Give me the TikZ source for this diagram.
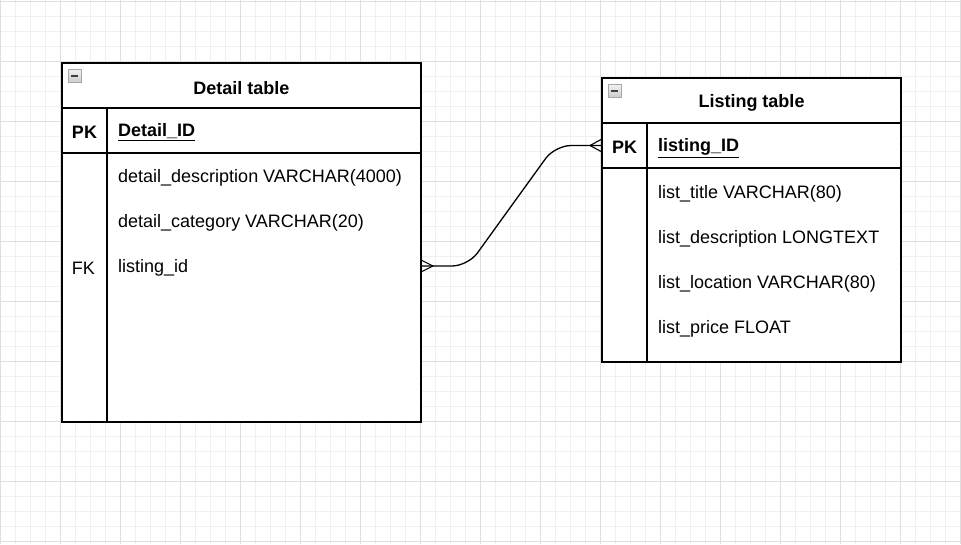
\documentclass[tikz,border=0pt]{standalone}
\usepackage{fontspec}
\setmainfont{Liberation Sans}
\usepackage{xcolor}
\usetikzlibrary{calc, positioning}
\definecolor{gridminor}{HTML}{F0F0F0}
\definecolor{gridmajor}{HTML}{DEDEDE}
\newcommand{\tablefont}{\fontsize{18}{21}\selectfont}
\tikzset{
    box/.style={rectangle, draw=black, line width=1.3pt, fill=white, inner sep=0pt, outer sep=0pt, anchor=north west},
    title/.style={font=\tablefont\bfseries},
    keyname/.style={anchor=west, inner sep=0pt, font=\tablefont\bfseries},
    field/.style={anchor=west, inner sep=0pt, font=\tablefont},
    keytag/.style={inner sep=0pt, font=\tablefont},
    minus/.style={rectangle, draw=gray!70, top color=gray!10, bottom color=gray!40, minimum size=13, inner sep=0pt, anchor=north west,
        path picture={\draw[line width=1.8pt, black!75] ([xshift=3]path picture bounding box.west) -- ([xshift=-3]path picture bounding box.east);}},
    conn/.style={draw=black, line width=1.3pt},
    crow/.style={draw=black, line width=1.1pt}
}

\begin{document}
\begin{tikzpicture}[x=1pt, y=-1pt]
    \useasboundingbox[fill=white] (0,0) rectangle (961,544);
    % grid
    \foreach \gx in {0,15,...,960} \draw[gridminor, line width=0.8pt] (\gx,0) -- (\gx,544);
    \foreach \gy in {1,16,...,541} \draw[gridminor, line width=0.8pt] (0,\gy) -- (961,\gy);
    \foreach \gx in {0,60,...,960} \draw[gridmajor, line width=0.8pt] (\gx,0) -- (\gx,544);
    \foreach \gy in {1,61,...,541} \draw[gridmajor, line width=0.8pt] (0,\gy) -- (961,\gy);

    % Detail table
    \node[box, minimum width=359, minimum height=45] (dethead) at (62,63) {};
    \node[box, minimum width=45, minimum height=45] (detpk) at (dethead.south west) {};
    \node[box, minimum width=314, minimum height=45] (detkey) at (detpk.north east) {};
    \node[box, minimum width=45, minimum height=269] (detcol) at (detpk.south west) {};
    \node[box, minimum width=314, minimum height=269] (detrows) at (detcol.north east) {};
    \node[minus] (detminus) at ([xshift=6, yshift=-6]dethead.north west) {};
    \node[title] (dettitle) at ([yshift=-2.5]dethead.center) {Detail table};
    \node[keytag, font=\tablefont\bfseries] (detpktag) at ([yshift=-1.5]detpk.center) {PK};
    \node[keyname] (detid) at (118,132) {\underline{Detail\_ID}};
    \node[field] (ddesc) at (118,178) {detail\_description VARCHAR(4000)};
    \node[field] (dcat) at (118,223) {detail\_category VARCHAR(20)};
    \node[field] (dlisting) at (118,268) {listing\_id};
    \node[keytag] (detfktag) at ([xshift=-1]detcol.center |- dlisting) {FK};

    % Listing table
    \node[box, minimum width=299, minimum height=45] (lsthead) at (602,78) {};
    \node[box, minimum width=45, minimum height=45] (lstpk) at (lsthead.south west) {};
    \node[box, minimum width=254, minimum height=45] (lstkey) at (lstpk.north east) {};
    \node[box, minimum width=45, minimum height=194] (lstcol) at (lstpk.south west) {};
    \node[box, minimum width=254, minimum height=194] (lstrows) at (lstcol.north east) {};
    \node[minus] (lstminus) at ([xshift=6, yshift=-6]lsthead.north west) {};
    \node[title] (lsttitle) at ([yshift=-2.5]lsthead.center) {Listing table};
    \node[keytag, font=\tablefont\bfseries] (lstpktag) at ([yshift=-1.5]lstpk.center) {PK};
    \node[keyname] (lstid) at (658,148) {\underline{listing\_ID}};
    \node[field] (ltitle) at (658,194) {list\_title VARCHAR(80)};
    \node[field] (ldesc) at (658,239) {list\_description LONGTEXT};
    \node[field] (lloc) at (658,284) {list\_location VARCHAR(80)};
    \node[field] (lprice) at (658,329) {list\_price FLOAT};

    % relation
    \coordinate (fkend) at (detrows.east |- 0,266);
    \draw[conn, rounded corners=16] (fkend) -- ++(47,0) -- ($(lstpk.west)+(-47,0)$) -- (lstpk.west);
    \draw[crow] ($(fkend)+(0,-6)$) -- ++(12,6) -- ++(-12,6);
    \draw[crow] ($(lstpk.west)+(0,-6.5)$) -- ++(-12,6.5) -- ++(12,6.5);
\end{tikzpicture}
\end{document}
